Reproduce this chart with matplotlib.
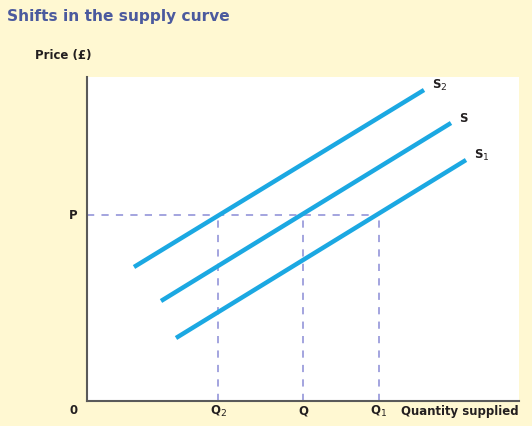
import matplotlib.pyplot as plt

# supply curves (start and end points, in chart units)
s2_x = [47, 337]
s2_y = [134, 311]
s_x = [74, 364]
s_y = [100, 278]
s1_x = [89, 379]
s1_y = [63, 241]

price_p = 186
quantities = [131, 216, 292]
q_labels = ["Q$_2$", "Q", "Q$_1$"]

bg = "#fff8d2"
line_col = "#1ba8e2"
dash_col = "#9c9ddc"
text_col = "#231f20"

fig = plt.figure(figsize=(5.32, 4.26), dpi=100, facecolor=bg)
ax = fig.add_axes([87/532, 1-401/426, 432/532, 324/426])
ax.set_facecolor("white")
ax.set_xlim(0, 432)
ax.set_ylim(0, 324)

for sp in ["top", "right"]:
    ax.spines[sp].set_visible(False)
for sp in ["left", "bottom"]:
    ax.spines[sp].set_color("#5a5a5a")
    ax.spines[sp].set_linewidth(1.5)
ax.set_xticks([])
ax.set_yticks([])

# dashed guide lines
ax.plot([0, quantities[-1]], [price_p, price_p], color=dash_col, lw=1.3,
        dashes=(4, 4), zorder=1)
for q in quantities:
    ax.plot([q, q], [0, price_p], color=dash_col, lw=1.3, dashes=(4, 4), zorder=1)

# the three supply curves
ax.plot(s2_x, s2_y, color=line_col, lw=3.2, solid_capstyle="butt", zorder=3)
ax.plot(s_x, s_y, color=line_col, lw=3.2, solid_capstyle="butt", zorder=3)
ax.plot(s1_x, s1_y, color=line_col, lw=3.2, solid_capstyle="butt", zorder=3)

lab = dict(family="DejaVu Sans", stretch="condensed", fontweight="bold",
           fontsize=9.4, color=text_col)
ax.text(s2_x[1] + 8, s2_y[1] + 5, "S$_2$", ha="left", va="center", **lab)
ax.text(s_x[1] + 8, s_y[1] + 5, "S", ha="left", va="center", **lab)
ax.text(s1_x[1] + 8, s1_y[1] + 5, "S$_1$", ha="left", va="center", **lab)

ax.text(-10, price_p, "P", ha="right", va="center", **lab)
ax.text(-14, -10, "0", ha="center", va="center", **lab, clip_on=False)
for q, name in zip(quantities, q_labels):
    ax.text(q, -10, name, ha="center", va="center", **lab, clip_on=False)
ax.text(314, -10, "Quantity supplied", ha="left", va="center", **lab, clip_on=False)

fig.text(35/532, 1-56/426, "Price (£)", ha="left", va="center", **lab)
fig.text(7/532, 1-16/426, "Shifts in the supply curve", ha="left", va="center",
         family="DejaVu Sans", stretch="normal", fontweight="bold",
         fontsize=11.1, color="#4b5a9e")

fig.savefig("out.png", dpi=100, facecolor=bg)
